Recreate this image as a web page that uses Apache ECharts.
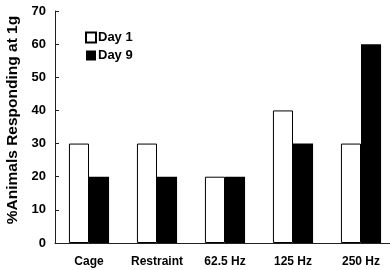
<!DOCTYPE html>
<html>
<head>
<meta charset="utf-8">
<script src="https://cdn.jsdelivr.net/npm/echarts@6/dist/echarts.min.js"></script>
<style>
  html, body { margin: 0; padding: 0; background: #fff; }
  #chart { width: 390px; height: 270px; }
</style>
</head>
<body>
<div id="chart"></div>
<script>
const categories = ["Cage", "Restraint", "62.5 Hz", "125 Hz", "250 Hz"];
const day1 = [30, 30, 20, 40, 30];
const day9 = [20, 20, 20, 30, 60];

const font = "Liberation Sans, Arial, sans-serif";
const chart = echarts.init(document.getElementById("chart"));

chart.setOption({
  animation: false,
  textStyle: { fontFamily: font },
  grid: { left: 55, right: -5, top: 11, bottom: 27, outerBoundsMode: "none", containLabel: false },
  legend: {
    orient: "vertical",
    left: 85,
    top: 31,
    padding: 0,
    itemWidth: 10,
    itemHeight: 10,
    itemGap: 5,
    icon: "rect",
    textStyle: { fontFamily: font, fontWeight: "bold", fontSize: 13, color: "#000", padding: [0, 0, 0, -3] },
    data: ["Day 1", "Day 9"],
  },
  xAxis: {
    type: "category",
    data: categories,
    axisLine: { lineStyle: { color: "#222", width: 1 } },
    axisTick: { show: false },
    axisLabel: { interval: 0, color: "#000", fontWeight: "bold", fontSize: 12, margin: 13, fontFamily: font },
  },
  yAxis: {
    type: "value",
    min: 0,
    max: 70,
    interval: 10,
    name: "%Animals Responding at 1g",
    nameLocation: "middle",
    nameGap: 33,
    nameTextStyle: { color: "#000", fontWeight: "bold", fontSize: 15.5, fontFamily: font, padding: [0, 0, 0, 14] },
    axisLine: { show: true, lineStyle: { color: "#222", width: 1 } },
    axisTick: { show: true, inside: true, length: 4, lineStyle: { color: "#222" } },
    axisLabel: { color: "#000", fontWeight: "bold", fontSize: 13, margin: 9, fontFamily: font },
    splitLine: { show: false },
  },
  series: [
    {
      name: "Day 1",
      type: "bar",
      data: day1,
      barGap: "0%",
      barCategoryGap: "41%",
      itemStyle: { color: "#fff", borderColor: "#000", borderWidth: 1 },
    },
    {
      name: "Day 9",
      type: "bar",
      data: day9,
      itemStyle: { color: "#000" },
    },
  ],
});
</script>
</body>
</html>
